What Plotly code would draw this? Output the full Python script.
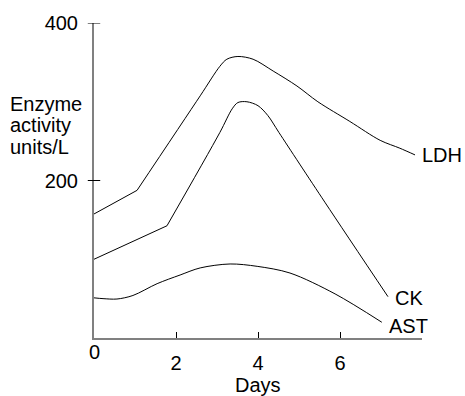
import plotly.graph_objects as go

# Serum enzyme activity (units/L) over days after onset
ldh_days = [0, 1.05, 2.59, 3.07, 3.24, 3.51, 3.88, 4.37, 4.95, 5.46, 6.24, 6.98, 7.46, 7.83]
ldh_vals = [157.5, 187.5, 307.5, 345, 354, 357.5, 354, 339, 320, 300, 275, 251, 241, 232.5]

ck_days = [0, 1.78, 3.07, 3.37, 3.51, 3.73, 4.0, 4.24, 4.51, 5.63, 7.17]
ck_vals = [100, 142.5, 261, 291, 299, 300, 295, 282.5, 261, 172.5, 52.5]

ast_days = [0, 0.22, 0.56, 0.95, 1.54, 2.1, 2.59, 3.32, 3.98, 4.78, 5.88, 7.02]
ast_vals = [51, 50, 49.5, 54, 69, 80, 89, 94, 91, 82.5, 56, 20]

x_ticks = [2, 4, 6]
y_ticks = [200, 400]

FONT = "Liberation Sans, Arial, sans-serif"
FS = 20
LINE = dict(color="black", width=1)


def add_curve(fig, xs, ys, kink):
    """Straight segment up to index `kink`, smooth curve after it."""
    if kink > 0:
        fig.add_trace(go.Scatter(x=xs[:kink + 1], y=ys[:kink + 1], mode="lines",
                                 line=LINE, showlegend=False, hoverinfo="skip"))
    fig.add_trace(go.Scatter(x=xs[kink:], y=ys[kink:], mode="lines",
                             line=dict(**LINE, shape="spline", smoothing=0.9),
                             showlegend=False, hoverinfo="skip"))


fig = go.Figure()
add_curve(fig, ldh_days, ldh_vals, 1)
add_curve(fig, ck_days, ck_vals, 1)
add_curve(fig, ast_days, ast_vals, 0)

# curve labels at the end of each line
for name, xs, ys, dx, dy in [("LDH", ldh_days, ldh_vals, 0.12, 0),
                             ("CK", ck_days, ck_vals, 0.12, -2),
                             ("AST", ast_days, ast_vals, 0.12, -5)]:
    fig.add_annotation(x=xs[-1] + dx, y=ys[-1] + dy, text=name, showarrow=False,
                       xanchor="left", yanchor="middle", font=dict(family=FONT, size=FS, color="black"))

# y ticks cross the axis line
for v in y_ticks:
    fig.add_shape(type="line", xref="paper", yref="y", x0=-0.019, x1=0.019, y0=v, y1=v,
                  line=dict(color="black", width=1))

# the origin label sits higher than the other day labels
fig.add_annotation(x=0, y=0, xref="x", yref="y", text="0", showarrow=False, yshift=-14,
                   yanchor="middle", font=dict(family=FONT, size=FS, color="black"))

fig.add_annotation(x=4, xref="x", yref="paper", y=-0.148, text="Days", showarrow=False,
                   yanchor="middle", font=dict(family=FONT, size=FS, color="black"))

for i, line in enumerate(["Enzyme", "activity", "units/L"]):
    fig.add_annotation(xref="paper", yref="paper", x=-0.262, y=0.743 - i * 0.068,
                       text=line, showarrow=False, xanchor="left", yanchor="middle",
                       font=dict(family=FONT, size=FS, color="black"))

fig.update_layout(
    width=465, height=396,
    margin=dict(l=94, r=43, t=18, b=58),
    paper_bgcolor="white", plot_bgcolor="white",
    font=dict(family=FONT, size=FS, color="black"),
    xaxis=dict(range=[0, 8], showline=True, linecolor="#808080", linewidth=2,
               showgrid=False, zeroline=False, tickvals=x_ticks,
               ticktext=[str(v) for v in x_ticks], ticks="inside", ticklen=6,
               tickcolor="black", tickwidth=1, ticklabelstandoff=6),
    yaxis=dict(range=[0, 400], showline=True, linecolor="#808080", linewidth=2,
               showgrid=False, zeroline=False, tickvals=y_ticks,
               ticktext=[str(v) for v in y_ticks], ticks="", ticklabelstandoff=10),
)

fig.write_html("out.html")
